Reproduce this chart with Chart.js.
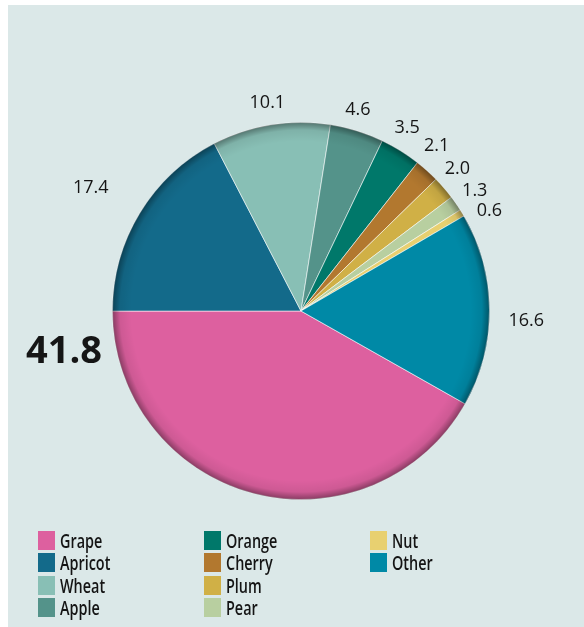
<!DOCTYPE html>
<html>
<head>
<meta charset="utf-8">
<script src="https://cdn.jsdelivr.net/npm/chart.js"></script>
<style>
  body { margin: 0; width: 584px; height: 627px; background: #fff; position: relative; overflow: hidden; }
  .panel { position: absolute; left: 8px; top: 5px; right: 0; bottom: 0; background: #dbe8e8; }
  #pie { position: absolute; left: 0; top: 0; }
  .legend { position: absolute; left: 0; top: 0; font-family: "Open Sans", sans-serif; font-weight: 600; font-size: 20px; color: #141414; }
  .legend .item { position: absolute; height: 20px; line-height: 20px; white-space: nowrap; }
  .legend .sw { display: inline-block; width: 17px; height: 19px; vertical-align: top; margin-right: 5px; }
  .legend .txt { display: inline-block; transform: scaleX(0.72); transform-origin: left center; }
</style>
</head>
<body>
<div class="panel"></div>
<canvas id="pie" width="584" height="627"></canvas>
<div class="legend" id="legend"></div>
<script>
const categories = ["Grape", "Apricot", "Wheat", "Apple", "Orange", "Cherry", "Plum", "Pear", "Nut", "Other"];
const shares = [41.8, 17.4, 10.1, 4.6, 3.5, 2.1, 2.0, 1.3, 0.6, 16.6];
const colors = ["#dd609f", "#136a8a", "#88bfb5", "#54938a", "#00786a", "#b2782f", "#d0b046", "#b8cfa0", "#e8d070", "#0089a6"];

// label placement: distance beyond the rim and turn (degrees) off the slice middle
const labelGap = [52, 55, 22, 21, 23, 25, 23, 23, 25, 37];
const labelTurn = [0, -1, 0, -1.5, -1.7, -2.5, -1.6, 0, 3.3, 3];

// soft dark rim inside the pie
const rimShade = {
  id: "rimShade",
  afterDatasetsDraw(chart) {
    const arc = chart.getDatasetMeta(0).data[0];
    const { x, y, outerRadius } = arc.getProps(["x", "y", "outerRadius"], true);
    const ctx = chart.ctx;
    const g = ctx.createRadialGradient(x, y, outerRadius * 0.9, x, y, outerRadius);
    g.addColorStop(0, "rgba(0,0,0,0)");
    g.addColorStop(0.6, "rgba(0,0,0,0.07)");
    g.addColorStop(1, "rgba(0,0,0,0.38)");
    ctx.save();
    ctx.beginPath();
    ctx.arc(x, y, outerRadius, 0, Math.PI * 2);
    ctx.fillStyle = g;
    ctx.fill();
    ctx.restore();
  }
};

const valueLabels = {
  id: "valueLabels",
  afterDraw(chart) {
    const ctx = chart.ctx;
    const data = chart.data.datasets[0].data;
    const biggest = data.indexOf(Math.max(...data));
    ctx.save();
    ctx.fillStyle = "#151515";
    ctx.textBaseline = "middle";
    ctx.textAlign = "center";
    chart.getDatasetMeta(0).data.forEach((arc, i) => {
      const p = arc.getProps(["x", "y", "startAngle", "endAngle", "outerRadius"], true);
      let a = (p.startAngle + p.endAngle) / 2 + labelTurn[i] * Math.PI / 180;
      if (i === biggest) {
        a = p.endAngle - 0.17;
        ctx.font = "bold 38px 'Open Sans', sans-serif";
      } else {
        ctx.font = "18px 'Open Sans', sans-serif";
      }
      const r = p.outerRadius + labelGap[i];
      ctx.fillText(data[i].toFixed(1), p.x + Math.cos(a) * r, p.y + Math.sin(a) * r);
    });
    ctx.restore();
  }
};

new Chart(document.getElementById("pie"), {
  type: "pie",
  data: {
    labels: categories,
    datasets: [{
      data: shares,
      backgroundColor: colors,
      borderColor: "rgba(255,255,255,0.55)",
      borderWidth: 1,
      hoverOffset: 0
    }]
  },
  options: {
    responsive: false,
    animation: false,
    events: [],
    rotation: 119.5,
    layout: { padding: { left: 112, right: 94, top: 122, bottom: 127 } },
    plugins: {
      legend: { display: false },
      tooltip: { enabled: false }
    }
  },
  plugins: [rimShade, valueLabels]
});

// legend laid out in columns of four
const legend = document.getElementById("legend");
const colX = [38, 204, 370];
categories.forEach((name, i) => {
  const item = document.createElement("div");
  item.className = "item";
  item.style.left = colX[Math.floor(i / 4)] + "px";
  item.style.top = (531 + (i % 4) * 22.3) + "px";
  item.innerHTML = '<span class="sw" style="background:' + colors[i] + '"></span><span class="txt">' + name + '</span>';
  legend.appendChild(item);
});
</script>
</body>
</html>
